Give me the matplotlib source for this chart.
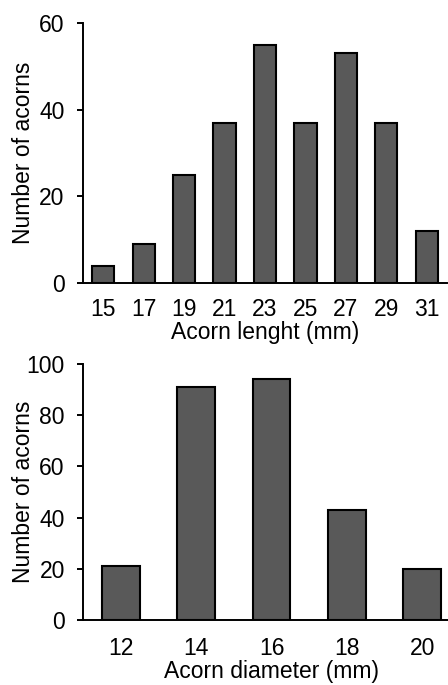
import matplotlib
matplotlib.use("Agg")
import matplotlib.pyplot as plt

plt.rcParams['font.family'] = ['Liberation Sans', 'DejaVu Sans']

length_cats = ["15", "17", "19", "21", "23", "25", "27", "29", "31"]
length_counts = [4, 9, 25, 37, 55, 37, 53, 37, 12]
length_yticks = [0, 20, 40, 60]

diam_cats = ["12", "14", "16", "18", "20"]
diam_counts = [21, 91, 94, 43, 20]
diam_yticks = [0, 20, 40, 60, 80, 100]

W, H = 448, 685
fig = plt.figure(figsize=(W / 100, H / 100), dpi=100)

FS = 16.5
BAR_COLOR = "#595959"


def px_axes(left, top, right, bottom):
    return fig.add_axes([left / W, 1 - bottom / H, (right - left) / W, (bottom - top) / H])


def style(ax, cats, counts, yticks, xlabel, width, xpad):
    x = list(range(len(cats)))
    ax.bar(x, counts, width=width, color=BAR_COLOR, edgecolor="black", linewidth=1.5, zorder=2)
    ax.set_xlim(-0.5, len(cats) - 0.5)
    ax.set_ylim(yticks[0], yticks[-1])
    ax.set_yticks(yticks)
    ax.set_xticks(x)
    ax.set_xticklabels(cats)
    for s in ["top", "right"]:
        ax.spines[s].set_visible(False)
    for s in ["left", "bottom"]:
        ax.spines[s].set_linewidth(1.4)
        ax.spines[s].set_color("black")
    ax.tick_params(axis="y", length=4.3, width=1.4, pad=9, labelsize=FS, direction="out")
    ax.tick_params(axis="x", length=0, pad=xpad, labelsize=FS)
    ax.set_xlabel(xlabel, fontsize=FS, labelpad=0)
    ax.set_ylabel("Number of acorns", fontsize=FS, va="center")


ax1 = px_axes(83, 23, 447, 283)
style(ax1, length_cats, length_counts, length_yticks, "Acorn lenght (mm)", 0.55, 11)
ax1.yaxis.set_label_coords(-(83 - 24) / 364, 0.5)

ax2 = px_axes(83.3, 364, 459.8, 620)
style(ax2, diam_cats, diam_counts, diam_yticks, "Acorn diameter (mm)", 0.5, 12.5)
ax2.yaxis.set_label_coords(-(83.3 - 24) / 376.5, 0.5)

fig.savefig("out.png", dpi=100)
